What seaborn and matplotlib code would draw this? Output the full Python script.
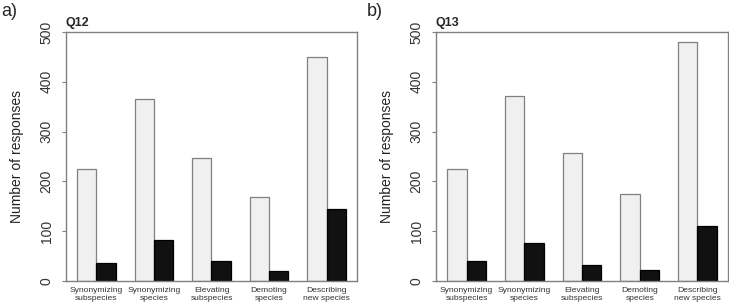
import matplotlib
matplotlib.use("Agg")
import matplotlib.pyplot as plt
import pandas as pd
import seaborn as sns

# data
categories = ["Synonymizing\nsubspecies", "Synonymizing\nspecies",
              "Elevating\nsubspecies", "Demoting\nspecies",
              "Describing\nnew species"]
q12_light = [225, 365, 246, 168, 449]
q12_dark = [36, 82, 41, 21, 145]
q13_light = [225, 371, 258, 175, 479]
q13_dark = [41, 76, 33, 23, 110]
y_ticks = [0, 100, 200, 300, 400, 500]

LIGHT = "#f0f0f0"
DARK = "#111111"
FRAME = "#808080"


def long_df(light, dark):
    df = pd.DataFrame({"category": categories, "light": light, "dark": dark})
    return df.melt(id_vars="category", var_name="group", value_name="count")


def draw_panel(ax, df, title):
    sns.barplot(data=df, x="category", y="count", hue="group",
                hue_order=["light", "dark"], order=categories,
                palette={"light": LIGHT, "dark": DARK},
                width=2 / 3, saturation=1, legend=False, ax=ax)

    # edge colours: grey for light bars, black for dark ones
    for cont, ec in zip(ax.containers, [FRAME, "black"]):
        for bar in cont:
            bar.set_edgecolor(ec)
            bar.set_linewidth(0.9)

    ax.set_xlim(-0.53, 4.53)
    ax.set_ylim(0, 500)
    ax.set_yticks(y_ticks)
    ax.set_xlabel("")
    ax.set_ylabel("Number of responses", fontsize=10, color="#222222")
    ax.yaxis.set_label_coords(-0.145, 0.5)

    for sp in ax.spines.values():
        sp.set_visible(True)
        sp.set_color(FRAME)
        sp.set_linewidth(1)

    ax.tick_params(axis="x", length=0, pad=4, labelsize=6.1,
                   labelcolor="#333333")
    ax.tick_params(axis="y", left=True, length=3, width=0.8, color=FRAME,
                   pad=11, labelsize=10, labelcolor="#333333")
    for lbl in ax.get_yticklabels():
        lbl.set_rotation(90)
        lbl.set_va("center")
        lbl.set_ha("center")
    for lbl in ax.get_xticklabels():
        lbl.set_linespacing(1.35)

    ax.set_title(title, loc="left", fontsize=9, fontweight="bold", pad=4)


sns.set_style("white")
plt.rcParams["font.family"] = ["Liberation Sans", "DejaVu Sans"]

fig = plt.figure(figsize=(7.29, 3.07), dpi=100)
ax_a = fig.add_axes([66 / 729, 1 - 281 / 307, 291 / 729, 249 / 307])
ax_b = fig.add_axes([436 / 729, 1 - 281 / 307, 292 / 729, 249 / 307])

draw_panel(ax_a, long_df(q12_light, q12_dark), "Q12")
draw_panel(ax_b, long_df(q13_light, q13_dark), "Q13")

fig.text(1 / 729, 1 - 3 / 307, "a)", fontsize=13, va="top", ha="left")
fig.text(367 / 729, 1 - 3 / 307, "b)", fontsize=13, va="top", ha="left")

fig.savefig("out.png", dpi=100)
